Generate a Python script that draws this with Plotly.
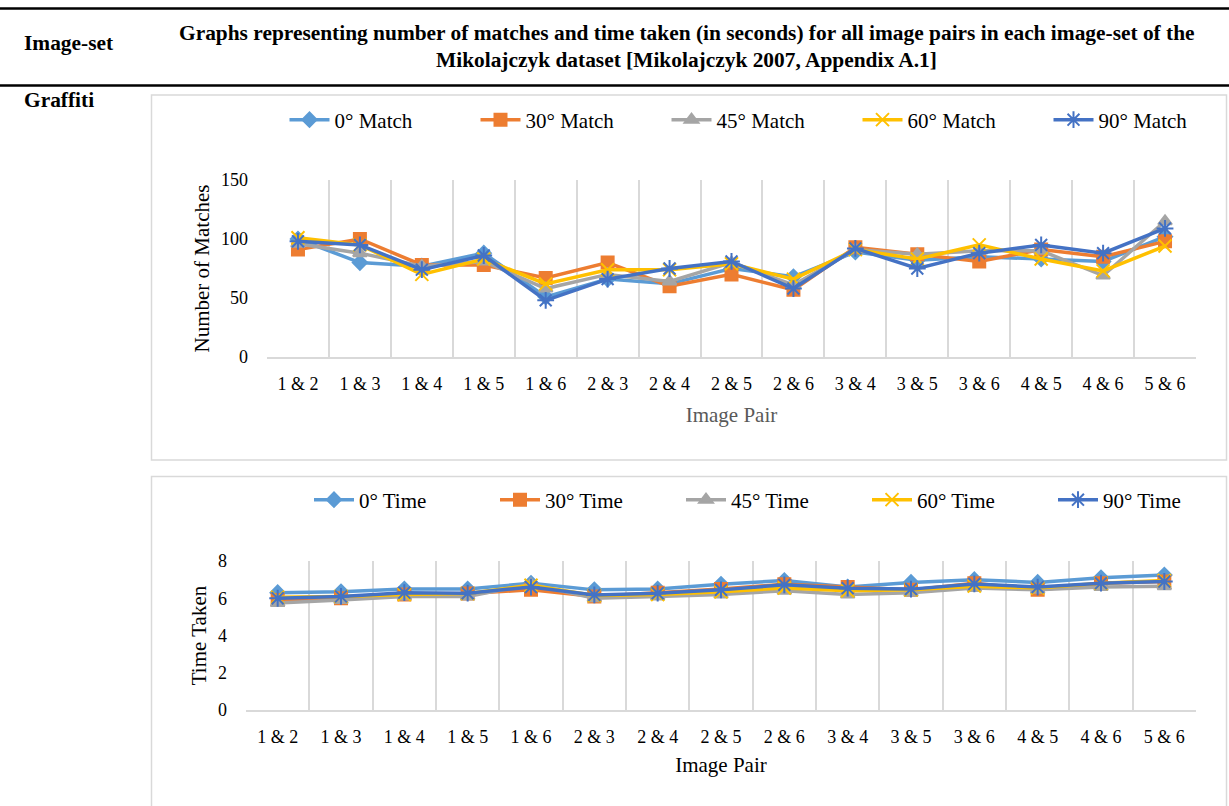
import plotly.graph_objects as go

# Image pairs of the Graffiti image-set
pairs = ["1 & 2", "1 & 3", "1 & 4", "1 & 5", "1 & 6", "2 & 3", "2 & 4", "2 & 5",
         "2 & 6", "3 & 4", "3 & 5", "3 & 6", "4 & 5", "4 & 6", "5 & 6"]

# Number of matches per rotation angle
match_0 = [100, 80, 77, 88, 51, 66, 62, 75, 68, 89, 82, 85, 83, 81, 102]
match_30 = [91, 100, 78, 78, 67, 80, 60, 70, 57, 93, 87, 81, 91, 85, 98]
match_45 = [96, 88, 77, 81, 58, 70, 64, 80, 61, 91, 87, 90, 90, 69, 115]
match_60 = [101, 95, 70, 83, 62, 74, 74, 79, 66, 91, 83, 95, 83, 73, 94]
match_90 = [98, 95, 74, 86, 48, 66, 75, 81, 58, 92, 75, 88, 95, 88, 109]

# Time taken (seconds) per rotation angle
time_0 = [6.3, 6.35, 6.5, 6.5, 6.8, 6.45, 6.5, 6.75, 6.95, 6.6, 6.85, 7.0, 6.85, 7.1, 7.25]
time_30 = [5.9, 6.0, 6.2, 6.25, 6.45, 6.1, 6.3, 6.5, 6.75, 6.6, 6.45, 6.8, 6.45, 6.8, 6.9]
time_45 = [5.75, 5.9, 6.1, 6.1, 6.75, 6.0, 6.1, 6.2, 6.4, 6.2, 6.3, 6.55, 6.45, 6.6, 6.65]
time_60 = [6.05, 6.1, 6.2, 6.25, 6.7, 6.15, 6.2, 6.35, 6.55, 6.4, 6.45, 6.65, 6.55, 6.8, 6.95]
time_90 = [6.0, 6.1, 6.3, 6.27, 6.6, 6.18, 6.27, 6.45, 6.72, 6.54, 6.49, 6.77, 6.6, 6.81, 6.9]

angles = ["0°", "30°", "45°", "60°", "90°"]
colors = ["#5B9BD5", "#ED7D31", "#A5A5A5", "#FFC000", "#4472C4"]
symbols = ["diamond", "square", "triangle-up", "x-thin-open", "asterisk-open"]
sizes = [11, 12, 12, 13, 14]

FONT = "Liberation Serif"
W, H = 1229, 806


def px(x):
    return x / W


def py(y):
    return 1 - y / H


fig = go.Figure()

match_series = [match_0, match_30, match_45, match_60, match_90]
time_series = [time_0, time_30, time_45, time_60, time_90]

for ang, col, sym, sz, vals in zip(angles, colors, symbols, sizes, match_series):
    fig.add_trace(go.Scatter(
        x=pairs, y=vals, name=f"{ang} Match", mode="lines+markers",
        line=dict(color=col, width=3.5),
        marker=dict(symbol=sym, size=sz, color=col, line=dict(color=col, width=2)),
        xaxis="x", yaxis="y", legend="legend",
    ))

for ang, col, sym, sz, vals in zip(angles, colors, symbols, sizes, time_series):
    fig.add_trace(go.Scatter(
        x=pairs, y=vals, name=f"{ang} Time", mode="lines+markers",
        line=dict(color=col, width=3.5),
        marker=dict(symbol=sym, size=sz, color=col, line=dict(color=col, width=2)),
        xaxis="x2", yaxis="y2", legend="legend2",
    ))

grid = "#D9D9D9"
xcommon = dict(
    type="category", tickson="boundaries", showgrid=True, gridcolor=grid, gridwidth=1.5,
    showline=True, linecolor=grid, linewidth=1.5, ticks="", zeroline=False,
    tickfont=dict(family=FONT, size=18, color="#000000"), ticklabelstandoff=10,
    range=[-0.5, 14.5],
)
ycommon = dict(
    showgrid=False, showline=False, zeroline=False, ticks="",
    tickfont=dict(family=FONT, size=18, color="#000000"), ticklabelstandoff=18,
)

fig.update_layout(
    width=W, height=H,
    margin=dict(l=0, r=0, t=0, b=0, autoexpand=False),
    paper_bgcolor="white", plot_bgcolor="white",
    font=dict(family=FONT, color="#000000"),
    xaxis=dict(**xcommon, domain=[px(267), px(1196)], anchor="y",
               title=dict(text="Image Pair", font=dict(family=FONT, size=21, color="#595959"), standoff=14)),
    yaxis=dict(**ycommon, domain=[py(357), py(180)], anchor="x", range=[0, 150], dtick=50,
               title=dict(text="Number of Matches", font=dict(family=FONT, size=21, color="#000000"), standoff=5)),
    xaxis2=dict(**xcommon, domain=[px(246), px(1196)], anchor="y2",
                title=dict(text="Image Pair", font=dict(family=FONT, size=21, color="#000000"), standoff=11)),
    yaxis2=dict(**ycommon, domain=[py(710), py(561)], anchor="x2", range=[0, 8], dtick=2,
                title=dict(text="Time Taken", font=dict(family=FONT, size=21, color="#000000"), standoff=5)),
    legend=dict(orientation="h", x=px(762), y=py(120), xanchor="center", yanchor="middle",
                font=dict(family=FONT, size=21, color="#000000"), bgcolor="rgba(0,0,0,0)",
                entrywidth=136, itemwidth=40),
    legend2=dict(orientation="h", x=px(774), y=py(500), xanchor="center", yanchor="middle",
                 font=dict(family=FONT, size=21, color="#000000"), bgcolor="rgba(0,0,0,0)",
                 entrywidth=131, itemwidth=40),
    showlegend=True,
)

# Table rules and chart frames
shapes = [
    dict(type="line", xref="paper", yref="paper", x0=0, x1=1, y0=py(8.5), y1=py(8.5),
         line=dict(color="#000000", width=2.5)),
    dict(type="line", xref="paper", yref="paper", x0=0, x1=1, y0=py(85.5), y1=py(85.5),
         line=dict(color="#000000", width=2.5)),
    dict(type="rect", xref="paper", yref="paper", x0=px(151.5), x1=px(1226.5), y0=py(460), y1=py(95),
         line=dict(color=grid, width=1.5)),
    dict(type="rect", xref="paper", yref="paper", x0=px(151.5), x1=px(1226.5), y0=py(815), y1=py(476.5),
         line=dict(color=grid, width=1.5)),
]
fig.update_layout(shapes=shapes)

hdr = dict(family=FONT, size=21.4, color="#000000")
fig.add_annotation(text="<b>Image-set</b>", x=px(22), y=py(43), xref="paper", yref="paper",
                   xanchor="left", yanchor="middle", showarrow=False, font=hdr)
fig.add_annotation(text="<b>Graphs representing number of matches and time taken (in seconds) for all image pairs in each image-set of the</b>",
                   x=px(687), y=py(33), xref="paper", yref="paper",
                   xanchor="center", yanchor="middle", showarrow=False, font=hdr)
fig.add_annotation(text="<b>Mikolajczyk dataset [Mikolajczyk 2007, Appendix A.1]</b>",
                   x=px(687), y=py(60), xref="paper", yref="paper",
                   xanchor="center", yanchor="middle", showarrow=False, font=hdr)
fig.add_annotation(text="<b>Graffiti</b>", x=px(22), y=py(100), xref="paper", yref="paper",
                   xanchor="left", yanchor="middle", showarrow=False, font=hdr)

# Pin the figure to the top-left corner of the page
page_js = (
    "document.documentElement.style.margin='0';"
    "document.documentElement.style.padding='0';"
    "document.body.style.margin='0';document.body.style.padding='0';"
    "document.body.style.overflow='hidden';"
    "var g=document.getElementById('{plot_id}');"
    "g.style.position='fixed';g.style.left='0px';g.style.top='0px';"
)
fig.write_html("out.html", post_script=page_js)
